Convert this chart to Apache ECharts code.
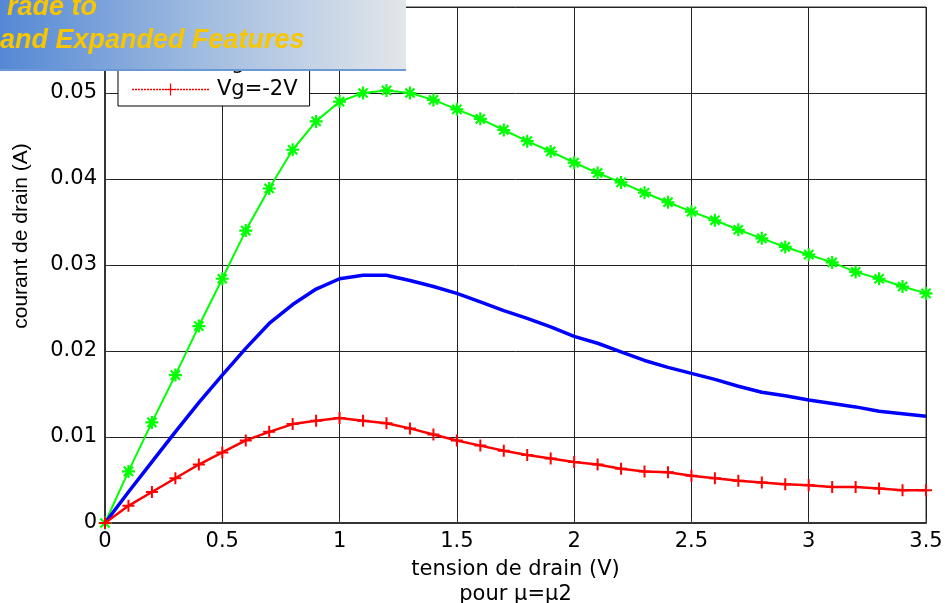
<!DOCTYPE html>
<html><head><meta charset="utf-8">
<script src="https://cdn.jsdelivr.net/npm/echarts@6/dist/echarts.min.js"></script>
<style>html,body{margin:0;padding:0;background:#fff}#c{width:945px;height:603px}</style>
</head><body><div id="c"></div>
<script>
// ---- data ----
const xValues = [0,0.1,0.2,0.3,0.4,0.5,0.6,0.7,0.8,0.9,1,1.1,1.2,1.3,1.4,1.5,1.6,1.7,1.8,1.9,2,2.1,2.2,2.3,2.4,2.5,2.6,2.7,2.8,2.9,3,3.1,3.2,3.3,3.4,3.5];
const seriesNames = ['Vg=0V', 'Vg=-1V', 'Vg=-2V'];
const currentVg0 = [0,0.0060,0.0117,0.0172,0.0229,0.0284,0.0340,0.0389,0.0434,0.0467,0.0490,0.0500,0.0503,0.0500,0.0492,0.0481,0.0470,0.0457,0.0444,0.0432,0.0419,0.0407,0.0396,0.0384,0.0373,0.0362,0.0352,0.0341,0.0331,0.0321,0.0312,0.0303,0.0292,0.0284,0.0275,0.0267];
const currentVg1 = [0,0.0036,0.0071,0.0106,0.0140,0.0172,0.0203,0.0232,0.0254,0.0272,0.0284,0.0288,0.0288,0.0282,0.0275,0.0267,0.0257,0.0247,0.0238,0.0228,0.0217,0.0209,0.0199,0.0189,0.0181,0.0174,0.0167,0.0159,0.0152,0.0148,0.0143,0.0139,0.0135,0.0130,0.0127,0.0124];
const currentVg2 = [0,0.0020,0.0036,0.0052,0.0068,0.0082,0.0096,0.0106,0.0115,0.0119,0.0122,0.0119,0.0116,0.0110,0.0103,0.0096,0.0090,0.0084,0.0079,0.0075,0.0071,0.0068,0.0063,0.0060,0.0059,0.0055,0.0052,0.0049,0.0047,0.0045,0.0044,0.0042,0.0042,0.0040,0.0038,0.0038];
const xTickInterval = 0.5;
const yTickInterval = 0.01;
const xAxisTitle = 'tension de drain (V)\npour μ=μ2';
const yAxisTitle = 'courant de drain (A)';
const bannerLines = ['rade to', 'and Expanded Features'];

// ---- marker shapes ----
function poly(pts){ return 'M' + pts.map(p => p[0].toFixed(3) + ',' + p[1].toFixed(3)).join(' L') + ' Z'; }
function plusOutline(a, t){ return [[-a,-t],[-t,-t],[-t,-a],[t,-a],[t,-t],[a,-t],[a,t],[t,t],[t,a],[-t,a],[-t,t],[-a,t]]; }
const k = Math.SQRT1_2;
const rot = pts => pts.map(p => [(p[0]-p[1])*k, (p[0]+p[1])*k]);
const plusPts = plusOutline(6, 1);
const plusSymbol = 'path://' + poly(plusPts);
const starSymbol = 'path://' + poly(plusPts) + ' ' + poly(rot(plusPts));

// legend icons: dotted (or solid) line + marker, drawn as one filled path
function rect(x0, y0, x1, y1){ return poly([[x0,y0],[x1,y0],[x1,y1],[x0,y1]]); }
function legendIcon(marker, dotted){
  const half = 38.5, parts = [];
  if (dotted) {
    for (let x = -half; x < half; x += 3) parts.push(rect(x, -0.75, Math.min(x + 2, half), 0.75));
  } else {
    parts.push(rect(-half, -1.5, half, 1.5));
  }
  const thin = plusOutline(6, 0.6);
  if (marker === 'plus' || marker === 'star') parts.push(poly(thin));
  if (marker === 'star') parts.push(poly(rot(thin)));
  if (!marker) { parts.push(rect(-0.5, -6, 0.5, -5.5)); parts.push(rect(-0.5, 5.5, 0.5, 6)); }
  return 'path://' + parts.join(' ');
}

const toPairs = vals => xValues.map((x, i) => [x, vals[i]]);
const FONT = 'DejaVu Sans';
const colors = ['#00ff00', '#0000ff', '#ff0000'];
const legendIcons = [legendIcon('star', true), legendIcon(null, false), legendIcon('plus', true)];

const chart = echarts.init(document.getElementById('c'), null, {renderer: 'canvas'});
chart.setOption({
  animation: false,
  backgroundColor: '#fff',
  grid: {left: 105, right: 19, top: 7, bottom: 80, show: true, borderColor: '#333', borderWidth: 1,
         containLabel: false, outerBoundsMode: 'none'},
  xAxis: {
    type: 'value', min: 0, max: 3.5, interval: xTickInterval,
    name: xAxisTitle, nameLocation: 'middle', nameGap: 31,
    nameTextStyle: {fontFamily: FONT, fontSize: 21, lineHeight: 25, color: '#000'},
    axisLine: {lineStyle: {color: '#333', width: 2}},
    axisTick: {inside: true, length: 5, lineStyle: {color: '#333'}},
    splitLine: {show: true, lineStyle: {color: '#222', width: 1}},
    axisLabel: {fontFamily: FONT, fontSize: 21, color: '#000', margin: 8}
  },
  yAxis: {
    type: 'value', min: 0, max: 0.06, interval: yTickInterval,
    axisLine: {show: true, lineStyle: {color: '#333', width: 2}},
    axisTick: {show: true, inside: true, length: 5, lineStyle: {color: '#333'}},
    splitLine: {show: true, lineStyle: {color: '#222', width: 1}},
    axisLabel: {fontFamily: FONT, fontSize: 21, color: '#000', margin: 8}
  },
  legend: {
    orient: 'vertical', left: 118, top: 21,
    data: seriesNames.map((n, i) => ({
      name: n, icon: legendIcons[i],
      itemStyle: {color: colors[i], borderWidth: 0}
    })),
    backgroundColor: '#fff', borderColor: '#000', borderWidth: 1, borderRadius: 0,
    padding: [6, 12, 6, 14], itemGap: 5, itemWidth: 77, itemHeight: 12,
    textStyle: {fontFamily: FONT, fontSize: 21, color: '#000', lineHeight: 21, padding: [0, 0, 0, 3]},
    selectedMode: false
  },
  series: [
    {name: seriesNames[0], type: 'line', data: toPairs(currentVg0), symbol: starSymbol, symbolSize: 13,
     lineStyle: {color: colors[0], width: 2}, itemStyle: {color: colors[0]}, z: 2},
    {name: seriesNames[1], type: 'line', data: toPairs(currentVg1), symbol: 'none', showSymbol: false,
     lineStyle: {color: colors[1], width: 3.5}, itemStyle: {color: colors[1]}, z: 3},
    {name: seriesNames[2], type: 'line', data: toPairs(currentVg2), symbol: plusSymbol, symbolSize: 12,
     lineStyle: {color: colors[2], width: 2.5}, itemStyle: {color: colors[2]}, z: 4}
  ],
  graphic: [
    {type: 'text', x: 21, y: 236, rotation: Math.PI / 2, z: 50,
     style: {text: yAxisTitle, font: '21px "Liberation Sans"', fill: '#000', align: 'center', verticalAlign: 'middle'}},
    {type: 'group', z: 100, children: [
      {type: 'rect', z: 100, shape: {x: 0, y: 0, width: 406, height: 70},
       style: {fill: new echarts.graphic.LinearGradient(0, 0, 1, 0, [
         {offset: 0, color: '#5588d4'}, {offset: 0.5, color: '#a0bce0'}, {offset: 1, color: '#e3e6ea'}])}},
      {type: 'rect', z: 101, shape: {x: 0, y: 69, width: 406, height: 2}, style: {fill: '#6a98d4'}},
      {type: 'text', z: 102, x: 7, y: 8,
       style: {text: bannerLines[0], font: 'italic bold 27px "Liberation Sans"', fill: '#f7c600', align: 'left', verticalAlign: 'middle'}},
      {type: 'text', z: 102, x: 0, y: 41,
       style: {text: bannerLines[1], font: 'italic bold 27px "Liberation Sans"', fill: '#f7c600', align: 'left', verticalAlign: 'middle'}}
    ]}
  ]
});
</script>
</body></html>
